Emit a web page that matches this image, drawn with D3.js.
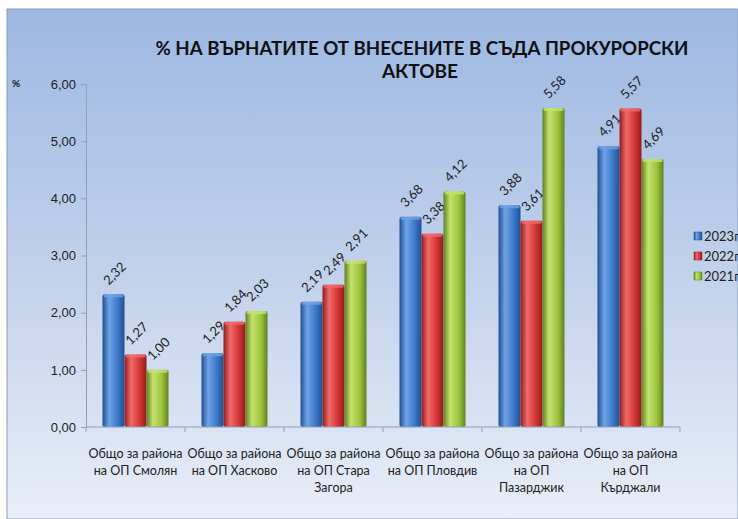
<!DOCTYPE html>
<html>
<head>
<meta charset="utf-8">
<script src="https://cdn.jsdelivr.net/npm/d3@7"></script>
<style>
  body { margin: 0; background: #fff; }
  svg { display: block; font-family: Lato, "Open Sans", sans-serif; }
</style>
</head>
<body>
<div id="chart"></div>
<script>
// Categories and series values
let categories = [
    ["Общо за района", "на ОП Смолян"],
    ["Общо за района", "на ОП Хасково"],
    ["Общо за района", "на ОП Стара", "Загора"],
    ["Общо за района", "на ОП Пловдив"],
    ["Общо за района", "на ОП", "Пазарджик"],
    ["Общо за района", "на ОП", "Кърджали"]
];
let seriesNames = ["2023г", "2022г", "2021г"];
let values2023 = [2.32, 1.29, 2.19, 3.68, 3.88, 4.91];
let values2022 = [1.27, 1.84, 2.49, 3.38, 3.61, 5.57];
let values2021 = [1.00, 2.03, 2.91, 4.12, 5.58, 4.69];
let yTicks = [0, 1, 2, 3, 4, 5, 6];

let allSeries = [values2023, values2022, values2021];
let colors = [
    { light: "#6fa3e6", mid: "#3b78c9", dark: "#1f4f92" },
    { light: "#f06b6b", mid: "#d43535", dark: "#8f1c1c" },
    { light: "#c6e26e", mid: "#9cc43c", dark: "#5f8220" }
];

let width = 738, height = 519;
let margin = { top: 84, left: 86, bottom: 92, right: 58 };

let svg = d3.select("#chart").append("svg")
    .attr("width", width)
    .attr("height", height);

let defs = svg.append("defs");

// Background gradient (dark blue top to pale bottom)
let bg = defs.append("linearGradient").attr("id", "bg")
    .attr("x1", 0).attr("y1", 0).attr("x2", 0).attr("y2", 1);
bg.append("stop").attr("offset", "0%").attr("stop-color", "#9db8e2");
bg.append("stop").attr("offset", "55%").attr("stop-color", "#c4d3ec");
bg.append("stop").attr("offset", "100%").attr("stop-color", "#e9eef8");

svg.append("rect")
    .attr("x", 7).attr("y", 9)
    .attr("width", width - 7).attr("height", height - 9)
    .attr("fill", "url(#bg)")
    .attr("stroke", "#8a9cb8")
    .attr("stroke-width", 1);

// Cylinder-like shading for the bars
colors.forEach((c, i) => {
    let g = defs.append("linearGradient").attr("id", "bar" + i)
        .attr("x1", 0).attr("y1", 0).attr("x2", 1).attr("y2", 0);
    g.append("stop").attr("offset", "0%").attr("stop-color", c.dark);
    g.append("stop").attr("offset", "30%").attr("stop-color", c.light);
    g.append("stop").attr("offset", "70%").attr("stop-color", c.mid);
    g.append("stop").attr("offset", "100%").attr("stop-color", c.dark);
});

// Title
let title = svg.append("text")
    .attr("text-anchor", "middle")
    .attr("font-weight", "bold")
    .attr("font-size", 19)
    .attr("fill", "#111");
title.append("tspan").attr("x", 422).attr("y", 55)
    .attr("textLength", 533).attr("lengthAdjust", "spacingAndGlyphs")
    .text("% НА ВЪРНАТИТЕ ОТ ВНЕСЕНИТЕ В СЪДА ПРОКУРОРСКИ");
title.append("tspan").attr("x", 420).attr("y", 78)
    .text("АКТОВЕ");

// Scales
let x = d3.scaleBand()
    .domain(d3.range(categories.length))
    .range([margin.left, width - margin.right]);

let xInner = d3.scaleBand()
    .domain(d3.range(seriesNames.length))
    .range([0, x.bandwidth()])
    .paddingOuter(0.75);

let y = d3.scaleLinear()
    .domain([0, 6])
    .range([height - margin.bottom, margin.top]);

// Y axis
let yAxis = svg.append("g")
    .attr("transform", `translate(${margin.left},0)`)
    .call(d3.axisLeft(y).tickValues(yTicks).tickSize(5).tickPadding(5)
        .tickFormat(d => d3.format(".2f")(d).replace(".", ",")));
yAxis.select(".domain").attr("stroke", "#8f9fb5");
yAxis.selectAll(".tick line").attr("stroke", "#8f9fb5");
yAxis.selectAll("text").attr("font-size", 13).attr("fill", "#222");

svg.append("text")
    .attr("x", 12).attr("y", 87)
    .attr("font-size", 10)
    .attr("font-weight", "bold")
    .attr("fill", "#222")
    .text("%");

// Bars
let groups = svg.selectAll(".series")
    .data(allSeries)
    .enter()
    .append("g")
    .attr("class", "series");

groups.each(function (vals, si) {
    let g = d3.select(this);
    g.selectAll("rect")
        .data(vals)
        .enter()
        .append("rect")
        .attr("x", (d, ci) => x(ci) + xInner(si))
        .attr("y", d => y(d))
        .attr("width", xInner.bandwidth())
        .attr("height", d => y(0) - y(d))
        .attr("rx", 2)
        .attr("fill", "url(#bar" + si + ")");

    // Light cap on top of each bar
    g.selectAll(".cap")
        .data(vals)
        .enter()
        .append("rect")
        .attr("class", "cap")
        .attr("x", (d, ci) => x(ci) + xInner(si) + 1)
        .attr("y", d => y(d))
        .attr("width", xInner.bandwidth() - 2)
        .attr("height", 3)
        .attr("rx", 1.5)
        .attr("fill", colors[si].light)
        .attr("opacity", 0.8);

    g.selectAll("text")
        .data(vals)
        .enter()
        .append("text")
        .attr("transform", (d, ci) => {
            let cx = x(ci) + xInner(si) + xInner.bandwidth() / 2 + 1;
            return `translate(${cx},${y(d) - 21}) rotate(-45)`;
        })
        .attr("text-anchor", "middle")
        .attr("dy", "0.35em")
        .attr("font-size", 13)
        .attr("fill", "#222")
        .text(d => d3.format(".2f")(d).replace(".", ","));
});

// X axis
let xAxis = svg.append("g")
    .attr("transform", `translate(0,${y(0)})`);
xAxis.append("line")
    .attr("x1", x.range()[0]).attr("x2", x.range()[1])
    .attr("stroke", "#8f9fb5");
xAxis.selectAll(".tk")
    .data(d3.range(categories.length + 1))
    .enter()
    .append("line")
    .attr("x1", i => margin.left + i * x.step())
    .attr("x2", i => margin.left + i * x.step())
    .attr("y1", 0).attr("y2", 5)
    .attr("stroke", "#8f9fb5");

let catLabels = svg.selectAll(".cat")
    .data(categories)
    .enter()
    .append("text")
    .attr("class", "cat")
    .attr("text-anchor", "middle")
    .attr("font-size", 12.5)
    .attr("fill", "#222");
catLabels.each(function (lines, ci) {
    d3.select(this).selectAll("tspan")
        .data(lines)
        .enter()
        .append("tspan")
        .attr("x", x(ci) + x.bandwidth() / 2)
        .attr("y", (d, li) => y(0) + 31 + li * 17)
        .text(d => d);
});

// Legend
let legend = svg.selectAll(".legend")
    .data(seriesNames)
    .enter()
    .append("g")
    .attr("transform", (d, i) => `translate(694,${232 + i * 20})`);
legend.append("rect")
    .attr("width", 8).attr("height", 8)
    .attr("fill", (d, i) => "url(#bar" + i + ")")
    .attr("stroke", (d, i) => colors[i].dark)
    .attr("stroke-width", 0.5);
legend.append("text")
    .attr("x", 10).attr("y", 4)
    .attr("dy", "0.35em")
    .attr("font-size", 13)
    .attr("fill", "#222")
    .text(d => d);
</script>
</body>
</html>
